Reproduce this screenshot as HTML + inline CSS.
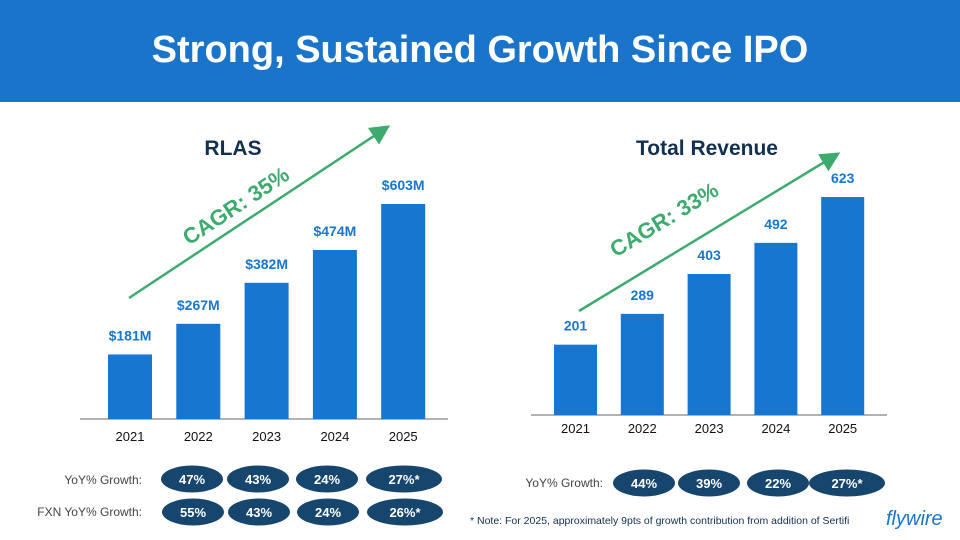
<!DOCTYPE html>
<html><head><meta charset="utf-8"><style>
body{margin:0;width:960px;height:540px;overflow:hidden;background:#fff;font-family:"Liberation Sans",sans-serif}
#hdr{position:absolute;left:0;top:0;width:960px;height:102px;background:#1a74c9}
#hdr div{color:#fff;font-weight:bold;font-size:38px;text-align:center;line-height:100px}
svg{position:absolute;left:0;top:0}
</style></head><body>
<div id="hdr"><div>Strong, Sustained Growth Since IPO</div></div>
<svg id="s" width="960" height="540">
<defs><marker id="ah" markerWidth="8" markerHeight="8" refX="6" refY="4" orient="auto"><path d="M0,0 L8,4 L0,8 Z" fill="#3dab6e"/></marker></defs>
</svg>
<script>
const years=["2021","2022","2023","2024","2025"];
const rlasValues=[181,267,382,474,603];
const rlasLabels=["$181M","$267M","$382M","$474M","$603M"];
const revValues=[201,289,403,492,623];
const revLabels=["201","289","403","492","623"];
const yoyL=["47%","43%","24%","27%*"];
const fxnL=["55%","43%","24%","26%*"];
const yoyR=["44%","39%","22%","27%*"];
const NS="http://www.w3.org/2000/svg";
const svg=document.getElementById('s');
function mk(t,a,txt){const e=document.createElementNS(NS,t);for(const k in a)e.setAttribute(k,a[k]);if(txt!==undefined)e.textContent=txt;svg.appendChild(e);return e;}
function chart(o){
  const yS=v=>o.base-v*o.scale;
  const ax=mk('line',{x1:o.axL,x2:o.axR,y1:o.base,y2:o.base,stroke:'#999','stroke-width':1.5});
  
  const t=mk('text',{x:o.titleX,y:o.titleY,'text-anchor':'middle','font-size':21,'font-weight':'bold',fill:'#12304f'},o.title);
  
  o.vals.forEach((v,i)=>{
    const x=o.x0+i*o.pitch;
    const r=mk('rect',{x:x,y:yS(v),width:o.bw,height:o.base-yS(v),fill:'#1776cf'});
    
    const l=mk('text',{x:x+o.bw/2,y:yS(v)-14,'text-anchor':'middle','font-size':14,'font-weight':'bold',fill:'#1776cf'},o.labels[i]);
    
    const c=mk('text',{x:x+o.bw/2,y:o.yearY,'text-anchor':'middle','font-size':13,fill:'#111'},o.cats[i]);
    
  });
  const a=mk('line',{x1:o.a[0],y1:o.a[1],x2:o.a[2],y2:o.a[3],stroke:'#3dab6e','stroke-width':2.5,'marker-end':'url(#ah)'});
  
  const ang=Math.atan2(o.a[3]-o.a[1],o.a[2]-o.a[0])*180/Math.PI;
  const g=mk('text',{x:o.c[0],y:o.c[1],'text-anchor':'middle','font-size':22,'font-weight':'bold',fill:'#3dab6e',transform:`rotate(${ang} ${o.c[0]} ${o.c[1]})`},o.cagr);
  
}
chart({id:'rlas',title:'RLAS',titleX:233,titleY:155,cats:years,vals:rlasValues,labels:rlasLabels,base:419,scale:215/603,x0:108,pitch:68.3,bw:44,axL:80,axR:448,yearY:441,a:[129,298,386,128],c:[240,212],cagr:'CAGR: 35%'});
chart({id:'rev',title:'Total Revenue',titleX:707,titleY:155,cats:years,vals:revValues,labels:revLabels,base:415,scale:148/423,x0:554,pitch:66.8,bw:43,axL:531,axR:887,yearY:433,a:[579,311,836,155],c:[668,226],cagr:'CAGR: 33%'});
function pills(list,xs,ws,cy,id){
  list.forEach((t,i)=>{
    const e=mk('ellipse',{cx:xs[i],cy:cy,rx:ws[i]/2,ry:13.5,fill:'#16456e'});
    
    const tx=mk('text',{x:xs[i],y:cy+5,'text-anchor':'middle','font-size':13,'font-weight':'bold',fill:'#fff'},t);
    
  });
}
function lab(x,y,t,n){const e=mk('text',{x:x,y:y,'text-anchor':'end','font-size':12,fill:'#444'},t);}
lab(142,484,'YoY% Growth:','rlas-yoy-label');
lab(142,516,'FXN YoY% Growth:','rlas-fxn-label');
lab(603,487,'YoY% Growth:','rev-yoy-label');
pills(yoyL,[192,258,327,404],[62,62,62,76],479,'rlas-yoy');
pills(fxnL,[193,259,328,405],[62,62,62,76],512,'rlas-fxn');
pills(yoyR,[644,709,778,847],[62,62,62,76],483,'rev-yoy');
const n=mk('text',{x:470,y:524,'font-size':10.5,fill:'#12304f'},'* Note:  For 2025, approximately 9pts of growth contribution  from addition of Sertifi');

const f=mk('text',{x:886,y:525,'font-size':20,'font-style':'italic',fill:'#1776cf'},'flywire');

</script>
</body></html>
